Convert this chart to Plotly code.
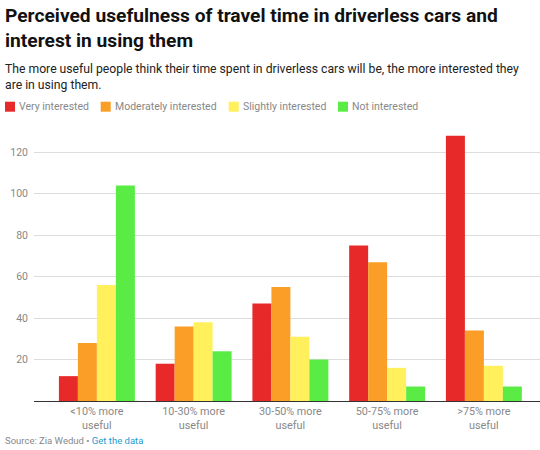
import plotly.graph_objects as go

categories = ["<10% more<br>useful", "10-30% more<br>useful", "30-50% more<br>useful",
              "50-75% more<br>useful", ">75% more<br>useful"]
series_names = ["Very interested", "Moderately interested", "Slightly interested", "Not interested"]
very_interested = [12, 18, 47, 75, 128]
moderately_interested = [28, 36, 55, 67, 34]
slightly_interested = [56, 38, 31, 16, 17]
not_interested = [104, 24, 20, 7, 7]
colors = ["#e8292a", "#fb9e27", "#fff05c", "#5aec45"]
y_ticks = [20, 40, 60, 80, 100, 120]

W, H = 540, 450
ML, MR, MT, MB = 34, 0, 130, 49
PW, PH = W - ML - MR, H - MT - MB


def px_x(x):
    return (x - ML) / PW


def px_y(y):
    return (H - MB - y) / PH


fig = go.Figure()
for name, vals, col in zip(series_names,
                           [very_interested, moderately_interested, slightly_interested, not_interested],
                           colors):
    fig.add_trace(go.Bar(x=categories, y=vals, name=name, marker=dict(color=col, line=dict(width=0)),
                         showlegend=False))

font_family = "Roboto, Arial, sans-serif"
annotations = []
shapes = []

# Title
annotations.append(dict(
    text="<b>Perceived usefulness of travel time in driverless cars and<br>interest in using them</b>",
    xref="paper", yref="paper", x=px_x(3), y=px_y(2), xanchor="left", yanchor="top",
    align="left", showarrow=False, font=dict(family=font_family, size=19.2, color="#111111")))
# Subtitle
annotations.append(dict(
    text="The more useful people think their time spent in driverless cars will be, the more interested they<br>are in using them.",
    xref="paper", yref="paper", x=px_x(3), y=px_y(60), xanchor="left", yanchor="top",
    align="left", showarrow=False, font=dict(family=font_family, size=12.2, color="#222222")))

# Custom legend
legend_sq_x = [5, 100.7, 228.7, 338]
for name, col, sx in zip(series_names, colors, legend_sq_x):
    shapes.append(dict(type="rect", xref="paper", yref="paper",
                       x0=px_x(sx), x1=px_x(sx + 10), y0=px_y(111.7), y1=px_y(101.7),
                       fillcolor=col, line=dict(width=0)))
    annotations.append(dict(text=name, xref="paper", yref="paper", x=px_x(sx + 12), y=px_y(106.5),
                            xanchor="left", yanchor="middle", showarrow=False,
                            font=dict(family=font_family, size=10.5, color="#888888")))

# Footer
annotations.append(dict(
    text="Source: Zia Wedud \u2022 <span style='color:#1a9bd3'>Get the data</span>",
    xref="paper", yref="paper", x=px_x(3), y=px_y(440), xanchor="left", yanchor="middle",
    showarrow=False, font=dict(family=font_family, size=9.5, color="#888888")))

fig.update_layout(
    width=W, height=H,
    margin=dict(l=ML, r=MR, t=MT, b=MB, pad=0),
    paper_bgcolor="white", plot_bgcolor="white",
    barmode="group", bargap=0.215, bargroupgap=0,
    font=dict(family=font_family, size=12, color="#888888"),
    annotations=annotations, shapes=shapes,
    xaxis=dict(range=[-0.65, 4.58], showline=True, linecolor="#333333", linewidth=1,
               showgrid=False, ticks="", tickfont=dict(size=10.8, color="#888888")),
    yaxis=dict(range=[0, 130.8], tickvals=y_ticks, showgrid=True, gridcolor="#dddddd",
               gridwidth=1, zeroline=False, showline=False, ticks="",
               tickfont=dict(size=10.5, color="#888888"), ticklabelstandoff=5),
)

fig.write_html("out.html", config={"displayModeBar": False},
               post_script="document.body.style.margin='0';document.body.style.padding='0';")
